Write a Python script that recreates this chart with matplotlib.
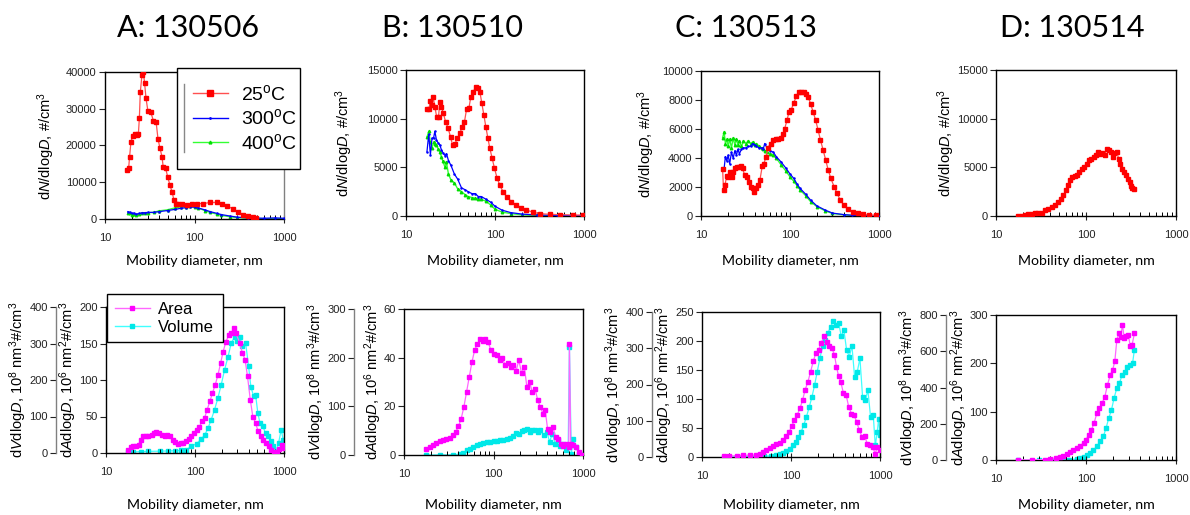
import matplotlib
matplotlib.use("Agg")
import matplotlib.pyplot as plt
from matplotlib.lines import Line2D

plt.rcParams['font.family'] = ['Liberation Sans', 'DejaVu Sans']
plt.rcParams['mathtext.fontset'] = 'custom'
plt.rcParams['mathtext.rm'] = 'Liberation Sans'
plt.rcParams['mathtext.it'] = 'Liberation Sans:italic'
plt.rcParams['mathtext.bf'] = 'Liberation Sans:bold'

titles = ["A: 130506", "B: 130510", "C: 130513", "D: 130514"]
temp_labels = ["25$^{\\mathrm{o}}$C", "300$^{\\mathrm{o}}$C", "400$^{\\mathrm{o}}$C"]

# --- top row: number size distributions (dN/dlogD, #/cm3) ---
a_d_red = [17.6, 18.4, 18.8, 19.5, 20.4, 21.4, 22.6, 23.6, 24.2, 24.8, 25.9, 26.8, 27.7, 28.7, 30.2,
           32.4, 34.7, 37.2, 39.1, 41.2, 43.3, 44.7, 47.6, 50.1, 53.2, 56.1, 59.0, 62.1, 65.8, 71.8,
           81.6, 93, 106, 125, 149, 177, 202, 229, 272, 309, 350, 400, 450, 490]
a_red = [13300, 14000, 16800, 21000, 22600, 23100, 22800, 23100, 27400, 34500, 39300, 40000, 37000, 32900, 29300,
         29100, 26800, 26500, 21800, 19200, 17000, 14200, 13800, 11500, 9200, 7400, 5100, 4200, 4000, 4000,
         3900, 4100, 4200, 4200, 4500, 4500, 4200, 3600, 2700, 1900, 1200, 700, 450, 350]
a_d_hot = [18, 19, 20, 21, 22, 24, 26, 28, 30, 35, 40, 50, 60, 70, 80, 90, 100, 110, 130, 150,
           180, 200, 250, 300, 400, 500, 600, 800, 1000]
a_blue = [2000, 1800, 1500, 1600, 1300, 1500, 1700, 1700, 1800, 1800, 2000, 2300, 2600, 2900, 3100, 3300, 3200,
          3000, 2500, 2000, 1500, 1200, 800, 500, 300, 250, 200, 300, 200]
a_green = [1500, 1600, 1200, 1400, 1100, 1300, 1600, 1700, 1700, 1800, 2200, 2500, 3000, 3300, 3400, 3500, 3300,
           3000, 2300, 1800, 1300, 1000, 600, 400, 200, 150, 100, 100, 100]

b_d_red = [17.2, 18.1, 18.8, 19.6, 20.2, 21.1, 22.1, 23.2, 24.0, 24.9, 26.2, 27.8, 29.8, 31.7, 33.4, 35.5,
           37.6, 40.3, 42.8, 45.4, 47.9, 50.9, 53.5, 56.9, 60.5, 63.7, 67.6, 71.1, 75, 78.8, 83.3, 87.5, 93,
           98.6, 105.8, 113, 123, 135, 153, 174, 198, 225, 268, 317, 414, 534, 750, 970]
b_red = [10960, 10960, 11850, 11400, 12190, 11230, 10200, 10200, 11750, 11230, 10620, 9690, 9010, 8080, 7290,
         7400, 7980, 8490, 9180, 9690, 10960, 11060, 12260, 12710, 13290, 13120, 12770, 11580, 10380, 9180,
         7980, 6950, 5920, 4900, 3870, 3180, 2500, 1990, 1470, 1130, 860, 620, 380, 240, 170, 140, 100, 100]
b_d_hot = [17.2, 18, 18.8, 19.6, 20.4, 21.1, 22, 23, 24, 25, 26, 27.5, 28.5, 30, 32, 35, 38, 42, 46, 50,
           55, 60, 65, 70, 80, 90, 100, 120, 150, 200, 300, 500, 1000]
b_blue = [6600, 8400, 6300, 8000, 8000, 8700, 7800, 7500, 7300, 6800, 6500, 6200, 6400, 5700, 5200, 4300, 3800,
          2900, 2700, 2500, 2300, 2300, 2000, 2000, 1700, 1400, 1000, 600, 350, 200, 100, 60, 30]
b_green = [8100, 8700, 7600, 7000, 7600, 7400, 7300, 6900, 6600, 6100, 5600, 5000, 5500, 4300, 3700, 3400, 2800,
           2500, 2200, 2000, 1900, 1800, 1750, 1700, 1500, 1100, 700, 400, 250, 120, 60, 30, 20]

c_d_red = [17.5, 17.9, 18.6, 19.4, 20.2, 21.1, 22.1, 23.0, 24.0, 25.1, 26.4, 27.8, 29.3, 30.9, 32.5, 34.3,
           36.1, 38.0, 39.6, 41.1, 43.2, 45.9, 48.8, 51, 53.6, 56.9, 60.4, 64.7, 69.2, 74.0, 79.2, 83.5,
           87.2, 92.6, 97.5, 103.4, 110, 118, 125.5, 133, 142, 151, 160, 170, 182, 194, 207, 220, 236, 252,
           269, 288, 313, 338, 367, 401, 446, 509, 581, 660, 780, 930]
c_red = [3230, 1790, 2130, 2750, 2660, 3050, 2710, 3050, 3330, 3390, 3350, 3440, 3280, 2820, 2710, 2360,
         2020, 1950, 1670, 1900, 2130, 2480, 3440, 3620, 4080, 4720, 5000, 5230, 5340, 5340, 5410, 5640,
         6030, 6610, 7180, 7340, 7800, 8260, 8560, 8560, 8560, 8440, 8210, 7750, 7180, 6610, 5920, 5230,
         4540, 3850, 3160, 2590, 2020, 1560, 1100, 760, 480, 300, 180, 110, 70, 50]
c_d_hot = [17.5, 18.2, 18.8, 19.5, 20.2, 21, 22, 23, 24, 25, 26, 27, 28.5, 30, 32, 34, 36, 38, 40, 42,
           45, 48, 50, 52, 55, 60, 65, 70, 80, 90, 100, 110, 120, 130, 150, 170, 200, 250, 300, 400, 500, 1000]
c_blue = [3200, 3300, 4100, 3800, 4200, 3600, 4400, 4000, 4500, 4200, 4600, 4300, 4600, 4700, 4700, 4800,
          4800, 5000, 4900, 4800, 4700, 4700, 4600, 5000, 4700, 4500, 4400, 4100, 3700, 3300, 2900, 2600,
          2200, 1900, 1500, 1100, 700, 400, 200, 100, 50, 20]
c_green = [5400, 5800, 5000, 5300, 4800, 5300, 4700, 5400, 4900, 5300, 4900, 5200, 4800, 5200, 5000, 5200,
           5000, 5100, 4900, 5000, 4800, 4700, 4600, 4500, 4400, 4300, 4200, 4000, 3500, 3100, 2700, 2400,
           2100, 1800, 1400, 1000, 650, 350, 180, 80, 40, 15]

d_d_red = [17.4, 19.3, 21.0, 22.9, 24.9, 27.2, 29.6, 32.2, 35.1, 38.2, 41.6, 45.3, 49.4, 52.4, 56.2, 59.5,
           63.2, 66.5, 70.7, 75.7, 80.2, 84.4, 89.6, 95.3, 102, 108.5, 115, 122, 130, 136, 144, 152, 161,
           170, 181, 190, 198, 207, 220, 230, 240, 253, 266, 280, 292, 306, 316, 328, 345]
d_red = [30, 30, 70, 170, 240, 310, 310, 340, 580, 750, 930, 1100, 1440, 1780, 2130, 2640, 3160, 3670, 4020,
         4080, 4190, 4530, 4870, 5040, 5390, 5730, 5900, 6070, 6250, 6590, 6420, 6490, 6250, 6930, 6830,
         6590, 6070, 6490, 6590, 5900, 5390, 4870, 4530, 4190, 3840, 3500, 3050, 2880, 2810]

# --- bottom row: area (10^6 nm2/cm3) and volume (10^8 nm3/cm3) distributions ---
ea_d_area = [17.8, 18.9, 20.2, 21.7, 23.2, 24.5, 26.2, 28.1, 30.0, 32.5, 34.5, 36.9, 39.5, 42.4, 45.5, 48.7,
             52.2, 55.9, 59.9, 64.2, 68.8, 73.8, 79.1, 84.8, 90.8, 97.3, 104, 112, 119.6, 128, 137, 147, 157,
             169, 181, 194, 207, 222, 238, 255, 273, 288, 318, 341, 365, 389, 418, 446, 479, 512, 549, 588,
             630, 675, 722, 774, 829, 888, 950, 1000]
ea_area = [4.6, 7.8, 9.1, 10, 11.4, 18.3, 23.7, 23.7, 23.7, 24.7, 27.4, 28.8, 27.4, 25.1, 22.8, 24.7, 22.8,
           18.3, 14.6, 12.8, 13.7, 13.7, 16.0, 19.2, 22.8, 27.4, 31.1, 35.6, 43.4, 47.9, 59.4, 70.8, 82.2,
           93.6, 107, 123, 139, 152, 161, 164, 171, 164, 151, 137, 128, 105, 73, 50, 41, 30, 23, 18, 14, 9,
           4, 2, 1, 5, 11, 7]
ea_d_vol = [17.8, 20, 25, 30, 40, 50, 60, 70, 80, 91, 104, 117, 129, 140, 152, 166, 181, 197, 215, 235, 256,
            279, 300, 318, 341, 370, 400, 424, 455, 479, 508, 537, 577, 620, 660, 710, 760, 810, 870, 930, 980]
ea_vol = [1.8, 3, 4, 4.6, 5, 5.6, 6, 7, 9.2, 18, 26, 37, 50, 68, 91, 119, 151, 187, 228, 264, 302, 318, 306,
          318, 292, 302, 238, 182, 156, 160, 110, 82, 74, 54, 46, 32, 18, 4, 28, 64, 36]

eb_d_area = [17.5, 19.4, 21.1, 23.0, 25.1, 27.4, 29.8, 32.5, 35.4, 37.9, 40.6, 43.6, 46.7, 50.0, 53.6, 57.5,
             61.6, 66.0, 70.8, 75.8, 81.2, 87.1, 93.3, 100, 108.6, 118, 126, 135, 145, 156, 167, 179, 192,
             206, 221, 236, 253, 271, 291, 312, 333, 357, 378, 402, 430, 461, 493, 528, 565, 605, 647, 693,
             705, 730, 780, 840, 900, 970]
eb_area = [2.6, 3.3, 4.3, 4.9, 5.6, 6.0, 6.5, 7.1, 8.1, 9.5, 11.8, 15.0, 19.8, 25.9, 32.1, 38.3, 43.1, 45.6,
           47.5, 46.9, 47.5, 46.5, 43.1, 41.7, 41.0, 39.0, 39.7, 36.9, 37.9, 36.2, 36.9, 34.6, 39.0, 33.5,
           36.2, 28.0, 30.1, 25.9, 27.3, 22.5, 19.8, 17.0, 18.4, 10.8, 9.5, 11.5, 7.4, 6.7, 4.7, 3.6, 4.7,
           3.3, 45.8, 4.7, 4.0, 3.3, 1.2, 0]
eb_d_vol = [17.5, 25, 35, 42, 46, 50, 54, 59, 65, 71, 77, 84, 91, 100, 109, 118, 129, 141, 153, 167, 179,
            192, 206, 221, 236, 253, 271, 291, 312, 333, 362, 396, 423, 455, 487, 520, 557, 596, 638, 683,
            705, 740, 780, 840, 900, 970]
eb_vol = [0, 0, 0.5, 1.5, 4, 9.5, 13, 16.5, 20, 23.5, 24.5, 26, 27.5, 28, 29, 30, 31.5, 33, 35, 38.5, 45.5,
          42.5, 49.5, 52, 54, 47.5, 52, 51, 46.5, 51, 40.5, 47.5, 27, 44, 23.5, 30, 18, 23.5, 11, 16.5,
          222.5, 2.5, 33.5, 16.5, 1.5, 0]

ec_d_area = [17.5, 20, 25, 29, 35, 40.9, 44.6, 48.6, 53, 57.7, 62.9, 68.6, 74.8, 81.6, 89, 95.3, 102, 109,
             117, 126, 135, 144, 155, 166, 178, 190, 204, 218, 234, 251, 269, 288, 308, 324, 343, 362, 388,
             416, 445, 477, 511, 547, 586, 628, 672, 720, 771, 826, 885, 932, 1000]
ec_area = [1, 1.7, 2.3, 2.9, 2.9, 2.9, 5.8, 8.7, 11.5, 15.6, 19.1, 21.9, 24.8, 28.9, 35.8, 43.3, 53.1, 63.5,
           72.2, 83.7, 98.2, 115.5, 130, 147, 165, 179, 185, 196, 208, 199, 191, 188, 176, 156, 139, 130,
           110, 107, 86.6, 75, 72, 60.6, 46.2, 34.6, 35.8, 23, 20.2, 17.3, 5.8, 17.3, 11.5]
ec_d_vol = [17.5, 25, 35, 50, 60, 68.6, 74.8, 81.6, 89, 97, 106, 113, 121, 130, 139, 149, 160, 172, 184, 197,
            211, 227, 243, 260, 279, 298, 320, 343, 367, 393, 421, 451, 484, 518, 555, 595, 637, 683, 731,
            784, 840, 885, 932, 966, 1000]
ec_vol = [0.8, 0.8, 1.6, 2.4, 3.2, 4.6, 7.4, 11, 16.6, 23, 32.3, 41.6, 55.4, 69.3, 87.7, 111, 137, 166, 198,
          235, 272, 306, 323, 342, 360, 374, 365, 370, 333, 350, 296, 277, 306, 222, 235, 272, 166, 157,
          184, 110, 115, 32, 69, 106, 60]

ed_d_area = [17.4, 25, 35, 40, 47, 51.6, 56, 61, 66.5, 72.5, 79, 86, 94, 100, 107, 115, 123, 132, 141, 151,
             162, 173, 186, 198, 209, 220, 232, 243, 254, 266, 280, 296, 310, 325, 345]
ed_area = [0.5, 0.5, 1, 2.8, 4.1, 6.2, 8.9, 12.4, 15.8, 20, 24.8, 29.6, 35.1, 42, 52.3, 62.6, 76.4, 97, 107,
           118, 131, 155, 176, 187, 204, 248, 262, 255, 279, 252, 257, 259, 235, 238, 262]
ed_d_vol = [17.4, 30, 50, 65, 79, 86, 94, 102, 111, 121, 132, 143, 156, 167, 179, 192, 205, 220, 235, 252,
            270, 289, 310, 329, 345]
ed_vol = [1.3, 1.3, 1.3, 2.7, 5.6, 11, 16.5, 25.6, 38.7, 53.3, 75.2, 102.7, 130.4, 176, 231, 277, 341, 397,
          424, 469, 488, 515, 525, 533, 608]

RED, RED_LINE = '#ff0000', '#ff5050'
BLUE = '#0000ff'
GREEN, GREEN_LINE = '#00dd00', '#33ff33'
MAG, MAG_LINE = '#ff00ff', '#ff66ff'
CYAN, CYAN_LINE = '#00e8e8', '#40ffff'

fig = plt.figure(figsize=(11.9, 5.15), dpi=100)


def px_box(x0, y0, x1, y1):
    # pixel box (from top-left) -> figure fraction rect
    return [x0 / 1190, 1 - y1 / 515, (x1 - x0) / 1190, (y1 - y0) / 515]


def style_x(ax, label_top):
    ax.set_xscale('log')
    ax.set_xlim(10, 1000)
    ax.set_xticks([10, 100, 1000])
    ax.set_xticklabels(['10', '100', '1000'])
    ax.tick_params(axis='x', which='major', direction='inout', length=6, width=0.8, pad=7)
    ax.tick_params(axis='x', which='minor', direction='in', length=3, width=0.7)
    ax.tick_params(axis='y', direction='out', length=4, width=0.8, pad=2)
    ax.tick_params(labelsize=8, colors='#222222')
    ax.set_xlabel("Mobility diameter, nm", family=['Lato', 'DejaVu Sans'], fontsize=10.2)
    box = ax.get_position()
    ax.xaxis.set_label_coords(box.x0 + box.width / 2, 1 - label_top / 515, transform=fig.transFigure)
    for s in ax.spines.values():
        s.set_linewidth(1.0)


top_boxes = [px_box(105, 72, 284, 219), px_box(406, 70, 584, 216),
             px_box(701, 71, 879, 216), px_box(996, 70, 1176, 216)]
top_ylims = [40000, 15000, 10000, 15000]
top_steps = [10000, 5000, 2000, 5000]
top_label_x = [-0.268, -0.287, -0.247, -0.217]
top_data = [(a_d_red, a_red, a_d_hot, a_blue, a_green),
            (b_d_red, b_red, b_d_hot, b_blue, b_green),
            (c_d_red, c_red, c_d_hot, c_blue, c_green),
            (d_d_red, d_red, None, None, None)]

nlabel = "d$\\it{N}$/dlog$\\it{D}$, #/cm$^{3}$"
top_axes = []
for i in range(4):
    ax = fig.add_axes(top_boxes[i])
    dr, r, dh, bl, gr = top_data[i]
    if dh is not None:
        ax.plot(dh, gr, color=GREEN_LINE, lw=1.0, marker='^', ms=1.8, mfc=GREEN, mec=GREEN, zorder=2)
        ax.plot(dh, bl, color=BLUE, lw=0.9, marker='.', ms=1.6, zorder=3)
    ax.plot(dr, r, color=RED_LINE, lw=0.9, marker='s', ms=2.6, mfc=RED, mec=RED, zorder=4)
    ax.set_ylim(0, top_ylims[i])
    ax.set_yticks(range(0, top_ylims[i] + 1, top_steps[i]))
    style_x(ax, 255)
    ax.set_ylabel(nlabel, fontsize=10.5)
    ax.yaxis.set_label_coords(top_label_x[i], 0.5)
    top_axes.append(ax)

# legend for the temperatures (panel A)
ax = top_axes[0]
ax.spines['right'].set_color('#808080')
hs = [Line2D([], [], color=RED_LINE, lw=1, marker='s', ms=4, mfc=RED, mec=RED),
      Line2D([], [], color=BLUE, lw=1, marker='.', ms=2),
      Line2D([], [], color=GREEN_LINE, lw=1, marker='^', ms=2, mfc=GREEN, mec=GREEN)]
leg = ax.legend(hs, temp_labels, loc='upper left', mode='expand',
                bbox_to_anchor=px_box(177, 68, 300, 168), bbox_transform=fig.transFigure, fontsize=14,
                frameon=True, fancybox=False, edgecolor='black', framealpha=1, handlelength=1.8,
                labelspacing=0.25, borderpad=0.8, handletextpad=0.7, borderaxespad=0)
leg.get_frame().set_linewidth(1.0)
fig.add_artist(Line2D([184 / 1190, 184 / 1190], [1 - 84 / 515, 1 - 152 / 515], color='#888888', lw=1))

# --- bottom row ---
bot_boxes = [px_box(106, 307, 284, 453), px_box(404, 309, 583, 455),
             px_box(702, 312, 880, 457), px_box(996, 315, 1176, 460)]
area_lims = [(200, 50), (60, 20), (250, 50), (300, 100)]
vol_lims = [(400, 100), (300, 100), (400, 100), (800, 200)]
area_label_x = [-0.149, -0.113, -0.149, -0.147]
vol_label_x = [-0.43, -0.43, -0.43, -0.43]
bot_data = [(ea_d_area, ea_area, ea_d_vol, ea_vol),
            (eb_d_area, eb_area, eb_d_vol, eb_vol),
            (ec_d_area, ec_area, ec_d_vol, ec_vol),
            (ed_d_area, ed_area, ed_d_vol, ed_vol)]
alabel = "d$\\it{A}$dlog$\\it{D}$, 10$^{6}$ nm$^{2}$#/cm$^{3}$"
vlabel = "d$\\it{V}$dlog$\\it{D}$, 10$^{8}$ nm$^{3}$#/cm$^{3}$"

bot_axes = []
for i in range(4):
    ax = fig.add_axes(bot_boxes[i])
    da, a, dv, v = bot_data[i]
    ax2 = ax.twinx()
    ax2.plot(dv, v, color=CYAN_LINE, lw=0.9, marker='s', ms=2.6, mfc=CYAN, mec=CYAN)
    ax.plot(da, a, color=MAG_LINE, lw=0.9, marker='s', ms=2.6, mfc=MAG, mec=MAG, zorder=3)
    ax.set_zorder(ax2.get_zorder() + 1)
    ax.patch.set_visible(False)
    ax.set_ylim(0, area_lims[i][0])
    ax.set_yticks(range(0, area_lims[i][0] + 1, area_lims[i][1]))
    ax2.set_ylim(0, vol_lims[i][0])
    ax2.set_yticks(range(0, vol_lims[i][0] + 1, vol_lims[i][1]))
    style_x(ax, 499)
    ax.set_ylabel(alabel, fontsize=10.5)
    ax.yaxis.set_label_coords(area_label_x[i], 0.5)
    # secondary (volume) axis drawn as a detached spine on the left
    for side in ['right', 'top', 'bottom']:
        ax2.spines[side].set_visible(False)
    ax2.spines['left'].set_visible(True)
    ax2.spines['left'].set_position(('outward', 36))
    ax2.spines['left'].set_color('#808080')
    ax2.spines['left'].set_linewidth(1.0)
    ax2.yaxis.tick_left()
    ax2.yaxis.set_label_position('left')
    ax2.tick_params(axis='y', direction='out', length=4, width=0.8, pad=2, labelsize=8, colors='#222222')
    ax2.set_ylabel(vlabel, fontsize=10.5)
    ax2.yaxis.set_label_coords(vol_label_x[i], 0.5)
    bot_axes.append(ax)

hs = [Line2D([], [], color=MAG_LINE, lw=1, marker='s', ms=3.5, mfc=MAG, mec=MAG),
      Line2D([], [], color=CYAN_LINE, lw=1, marker='s', ms=3.5, mfc=CYAN, mec=CYAN)]
leg2 = bot_axes[0].legend(hs, ["Area", "Volume"], loc='upper left', mode='expand',
                          bbox_to_anchor=px_box(107, 294, 223, 344), bbox_transform=fig.transFigure,
                          fontsize=12, frameon=True, fancybox=False, edgecolor='black', framealpha=1,
                          handlelength=2.1, labelspacing=0.2, borderpad=0.45, handletextpad=0.5,
                          borderaxespad=0)
leg2.get_frame().set_linewidth(1.0)

title_x = [188, 453, 746, 1072]
for i in range(4):
    fig.text(title_x[i] / 1190, 1 - 28 / 515, titles[i], ha='center', va='center',
             family=['Lato', 'DejaVu Sans'], fontsize=22)

fig.savefig("out.png", dpi=100)
